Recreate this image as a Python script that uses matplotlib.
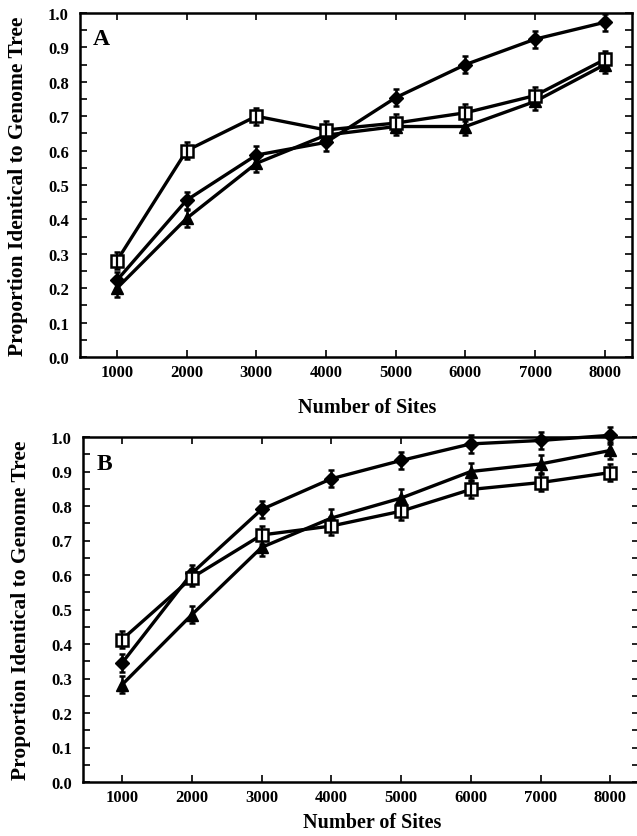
import matplotlib
matplotlib.use("Agg")
import matplotlib.pyplot as plt
from matplotlib.ticker import MultipleLocator, FormatStrFormatter

plt.rcParams['font.family'] = ['Liberation Serif', 'DejaVu Serif']
plt.rcParams['font.weight'] = 'bold'

sites = [1000, 2000, 3000, 4000, 5000, 6000, 7000, 8000]

# Panel A
a_square = [0.28, 0.60, 0.70, 0.66, 0.68, 0.71, 0.76, 0.865]
a_diamond = [0.223, 0.456, 0.587, 0.624, 0.754, 0.85, 0.924, 0.973]
a_triangle = [0.20, 0.403, 0.563, 0.645, 0.67, 0.67, 0.743, 0.85]
a_err = 0.025

# Panel B
b_square = [0.413, 0.592, 0.716, 0.742, 0.785, 0.848, 0.868, 0.897]
b_diamond = [0.345, 0.605, 0.79, 0.879, 0.932, 0.98, 0.99, 1.005]
b_triangle = [0.282, 0.485, 0.68, 0.765, 0.823, 0.90, 0.922, 0.961]
b_err = 0.025

W, H = 637, 837
fig = plt.figure(figsize=(W / 100, H / 100), dpi=100)


def panel(rect, xlim, sq, di, tr, err, letter, letter_pos, xlab_y):
    ax = fig.add_axes(rect)
    lw = 2.4
    ax.errorbar(sites, tr, yerr=err, color='black', lw=lw, marker='^', ms=8.5,
                mfc='black', mec='black', capsize=2.5, elinewidth=1.8,
                capthick=1.8, clip_on=False, zorder=3)
    ax.errorbar(sites, di, yerr=err, color='black', lw=lw, marker='D', ms=7,
                mfc='black', mec='black', capsize=2.5, elinewidth=1.8,
                capthick=1.8, clip_on=False, zorder=3)
    ax.plot(sites, sq, color='black', lw=lw, marker='s', ms=8.5, mfc='white',
            mec='black', mew=1.8, clip_on=False, zorder=4)
    ax.errorbar(sites, sq, yerr=err, fmt='none', ecolor='black', capsize=2.5,
                elinewidth=1.6, capthick=1.8, clip_on=False, zorder=5)

    ax.set_xlim(*xlim)
    ax.set_ylim(0.0, 1.0)
    ax.set_xticks(sites)
    ax.yaxis.set_major_locator(MultipleLocator(0.1))
    ax.yaxis.set_minor_locator(MultipleLocator(0.05))
    ax.yaxis.set_major_formatter(FormatStrFormatter('%.1f'))
    ax.tick_params(axis='both', which='both', direction='in', top=True,
                   right=True, width=1.2)
    ax.tick_params(axis='both', which='major', length=5, labelsize=12)
    ax.tick_params(axis='y', which='minor', length=5)
    ax.tick_params(axis='y', which='major', pad=8)
    ax.tick_params(axis='x', which='major', pad=5)
    for lab in ax.get_xticklabels() + ax.get_yticklabels():
        lab.set_fontweight('bold')
    for s in ax.spines.values():
        s.set_linewidth(1.8)
    ax.set_ylabel('Proportion Identical to Genome Tree', fontsize=15.5,
                  fontweight='bold')
    ax.yaxis.set_label_coords(-0.094, 0.5)
    ax.set_xlabel('Number of Sites', fontsize=14.5, fontweight='bold')
    ax.xaxis.set_label_coords(0.52, xlab_y)
    ax.text(letter_pos[0], letter_pos[1], letter, transform=ax.transAxes,
            fontsize=17, fontweight='bold', va='top', ha='left')
    return ax


panel([80 / W, 1 - 358 / H, 552 / W, 344 / H], (470, 8390),
      a_square, a_diamond, a_triangle, a_err, 'A', (0.024, 0.955), -0.115)
panel([83 / W, 1 - 783 / H, 556 / W, 345 / H], (440, 8410),
      b_square, b_diamond, b_triangle, b_err, 'B', (0.025, 0.955), -0.088)

fig.savefig('out.png', dpi=100)
